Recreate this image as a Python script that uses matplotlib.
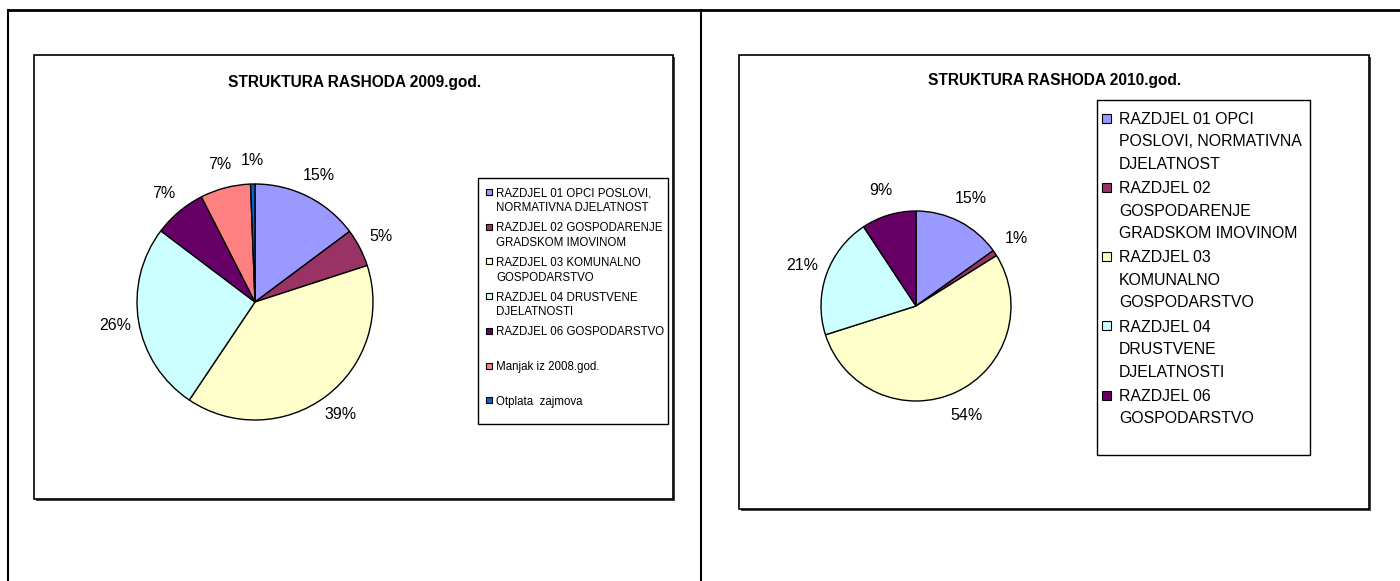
import matplotlib
matplotlib.use('Agg')
import matplotlib.pyplot as plt
from matplotlib.patches import Rectangle
from matplotlib.lines import Line2D

plt.rcParams['font.family'] = ['Liberation Sans', 'DejaVu Sans']

W, H = 1400, 581

# 2009 data
labels_2009 = ['RAZDJEL 01 OPCI POSLOVI,\nNORMATIVNA DJELATNOST',
               'RAZDJEL 02 GOSPODARENJE\nGRADSKOM IMOVINOM',
               'RAZDJEL 03 KOMUNALNO\nGOSPODARSTVO',
               'RAZDJEL 04 DRUSTVENE\nDJELATNOSTI',
               'RAZDJEL 06 GOSPODARSTVO',
               'Manjak iz 2008.god.',
               'Otplata  zajmova']
values_2009 = [14.8, 5.2, 39.4, 25.9, 7.2, 6.9, 0.6]

# 2010 data
labels_2010 = ['RAZDJEL 01 OPCI\nPOSLOVI, NORMATIVNA\nDJELATNOST',
               'RAZDJEL 02\nGOSPODARENJE\nGRADSKOM IMOVINOM',
               'RAZDJEL 03\nKOMUNALNO\nGOSPODARSTVO',
               'RAZDJEL 04\nDRUSTVENE\nDJELATNOSTI',
               'RAZDJEL 06\nGOSPODARSTVO']
values_2010 = [15.1, 1.0, 54.0, 20.6, 9.3]

colors = ['#9999FF', '#993366', '#FFFFCC', '#CCFFFF', '#660066', '#FF8080', '#0066CC']

fig = plt.figure(figsize=(14, 5.81), dpi=100)


def fx(x):
    return x / W


def fy(y):
    return 1 - y / H


def box(x0, y0, x1, y1, lw=1.2, shadow=2):
    # grey drop shadow, then the white box with black edge
    fig.patches.append(Rectangle((fx(x0 + shadow), fy(y1 + shadow)), (x1 - x0) / W, (y1 - y0) / H,
                                 transform=fig.transFigure, facecolor='#444444',
                                 edgecolor='none', zorder=-2))
    fig.patches.append(Rectangle((fx(x0), fy(y1)), (x1 - x0) / W, (y1 - y0) / H,
                                 transform=fig.transFigure, facecolor='white',
                                 edgecolor='black', linewidth=lw, zorder=-1))


def pie_panel(cx, cy, r, values, dist):
    ax = fig.add_axes([fx(cx - r), fy(cy + r), 2 * r / W, 2 * r / H])
    ax.pie(values, colors=colors[:len(values)], startangle=90, counterclock=False,
           autopct='%1.0f%%', pctdistance=dist,
           wedgeprops=dict(edgecolor='black', linewidth=1, clip_on=False),
           textprops=dict(fontsize=11.5))
    ax.set_xlim(-1, 1)
    ax.set_ylim(-1, 1)
    ax.axis('off')
    return ax


def legend_box(x0, y0, x1, y1, labels, first_y, pitch, mark_x, mark_size, text_x, fontsize, ls):
    box(x0, y0, x1, y1, lw=1.0, shadow=1)
    size_px = fontsize * 100 / 72
    for i, lab in enumerate(labels):
        y = first_y + i * pitch
        fig.patches.append(Rectangle((fx(mark_x), fy(y + mark_size / 2)), mark_size / W, mark_size / H,
                                     transform=fig.transFigure, facecolor=colors[i],
                                     edgecolor='black', linewidth=0.8))
        fig.text(fx(text_x), fy(y - 0.38 * size_px), lab, fontsize=fontsize, ha='left', va='top',
                 linespacing=ls)


# outer page lines
fig.add_artist(Line2D([fx(8), 1], [fy(10), fy(10)], transform=fig.transFigure, color='black', lw=2))
fig.add_artist(Line2D([fx(8), fx(8)], [fy(10), 0], transform=fig.transFigure, color='black', lw=1.5))
fig.add_artist(Line2D([fx(701), fx(701)], [fy(10), 0], transform=fig.transFigure, color='black', lw=1.5))

# chart areas
box(34, 55, 673, 499)
box(739, 55, 1369, 509)

fig.text(fx(355), fy(82), 'STRUKTURA RASHODA 2009.god.', fontsize=11.2, fontweight='bold',
         ha='center', va='center')
fig.text(fx(1055), fy(81), 'STRUKTURA RASHODA 2010.god.', fontsize=11.2, fontweight='bold',
         ha='center', va='center')

pie_panel(255, 302, 118, values_2009, 1.2)
pie_panel(916, 306, 95, values_2010, 1.27)

legend_box(478, 178, 668, 424, labels_2009, 192, 34.7, 486, 6, 496, 8.3, 1.3)
legend_box(1097, 100, 1310, 455, labels_2010, 118, 69.25, 1102, 9, 1119, 11.4, 1.62)

fig.savefig('out.png', dpi=100)
